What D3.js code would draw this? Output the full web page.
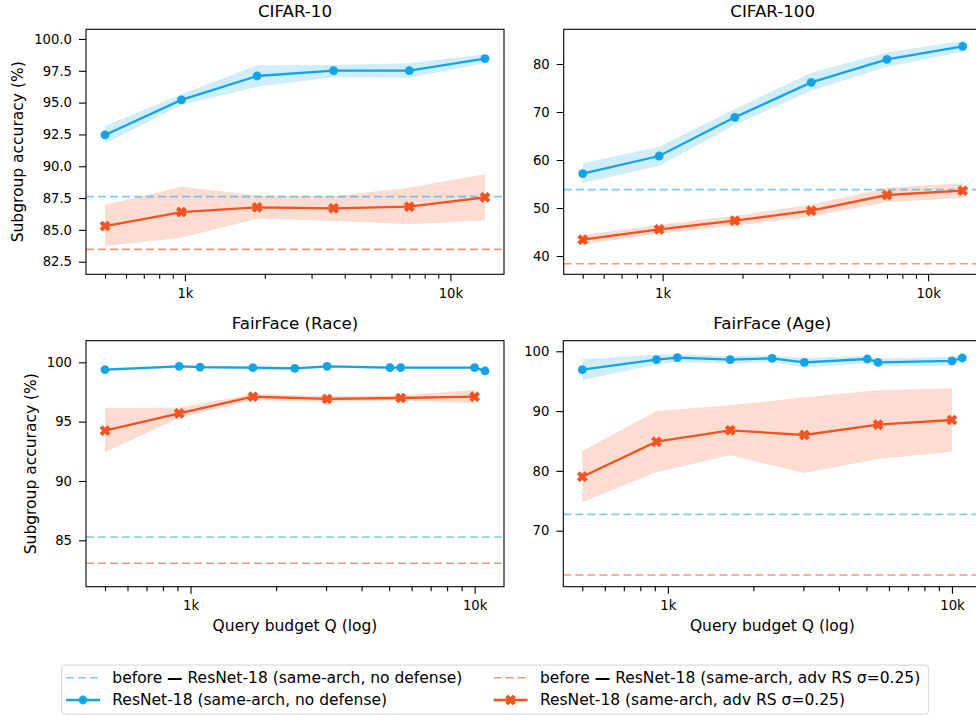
<!DOCTYPE html>
<html>
<head>
<meta charset="utf-8">
<script src="https://cdn.jsdelivr.net/npm/d3@7"></script>
<style>
  body { margin: 0; background: #fff; }
  svg { display: block; font-family: "DejaVu Sans", sans-serif; }
</style>
</head>
<body>
<svg id="chart" width="976" height="715"></svg>
<script>
// ---- Query budgets ----
const cifarQ = [500, 970, 1870, 3630, 7000, 13500];
const faceQPlain = [500, 912, 1080, 1658, 2328, 3024, 5035, 5495, 10000, 10875];
const faceQRobust = [500, 912, 1658, 3024, 5495, 10000];

// ---- CIFAR-10 ----
const c10Plain   = [92.46, 95.21, 97.09, 97.51, 97.51, 98.45];
const c10PlainLo = [91.80, 94.81, 96.25, 96.99, 96.96, 98.09];
const c10PlainHi = [93.16, 95.65, 97.93, 97.96, 98.09, 98.80];
const c10Robust   = [85.30, 86.40, 86.77, 86.69, 86.82, 87.56];
const c10RobustLo = [83.73, 84.38, 85.88, 85.72, 85.44, 85.75];
const c10RobustHi = [86.95, 88.39, 87.71, 87.66, 88.31, 89.37];
const c10Before = [87.61, 83.47];

// ---- CIFAR-100 ----
const c100Plain   = [57.15, 60.83, 68.89, 76.18, 80.97, 83.68];
const c100PlainLo = [55.14, 58.82, 67.29, 74.44, 79.44, 82.57];
const c100PlainHi = [59.31, 62.78, 70.63, 78.19, 82.43, 84.79];
const c100Robust   = [43.40, 45.56, 47.36, 49.44, 52.71, 53.61];
const c100RobustLo = [42.44, 44.65, 46.32, 48.19, 51.25, 52.08];
const c100RobustHi = [44.38, 46.53, 48.40, 50.69, 54.23, 55.14];
const c100Before = [53.82, 38.40];

// ---- FairFace (Race) ----
const racePlain   = [99.38, 99.66, 99.60, 99.55, 99.49, 99.66, 99.55, 99.55, 99.55, 99.27];
const racePlainLo = [99.25, 99.55, 99.50, 99.35, 99.30, 99.55, 99.45, 99.45, 99.45, 99.20];
const racePlainHi = [99.50, 99.75, 99.70, 99.65, 99.60, 99.75, 99.65, 99.65, 99.65, 99.35];
const raceRobust   = [94.24, 95.70, 97.10, 96.91, 96.99, 97.10];
const raceRobustLo = [92.42, 95.30, 96.82, 96.65, 96.80, 96.54];
const raceRobustHi = [96.12, 96.20, 97.33, 97.15, 97.20, 97.67];
const raceBefore = [85.28, 83.07];

// ---- FairFace (Age) ----
const agePlain   = [96.93, 98.60, 98.93, 98.60, 98.82, 98.15, 98.71, 98.15, 98.38, 98.88];
const agePlainLo = [95.20, 97.80, 98.20, 97.90, 98.20, 97.30, 98.00, 97.50, 97.60, 98.40];
const agePlainHi = [98.70, 99.40, 99.50, 99.20, 99.30, 98.90, 99.20, 98.80, 99.10, 99.30];
const ageRobust   = [79.03, 84.88, 86.78, 86.00, 87.73, 88.51];
const ageRobustLo = [74.79, 79.76, 82.60, 79.64, 81.98, 83.21];
const ageRobustHi = [83.32, 90.01, 90.96, 92.30, 93.47, 93.81];
const ageBefore = [72.73, 62.58];

// ---- Axis ticks ----
const xMajorTicks = [1000, 10000];
const xMajorLabels = ["1k", "10k"];
const xMinorTicks = [200, 300, 400, 500, 600, 700, 800, 900, 2000, 3000, 4000, 5000, 6000, 7000, 8000, 9000, 20000];
const c10YTicks = [82.5, 85.0, 87.5, 90.0, 92.5, 95.0, 97.5, 100.0];
const c100YTicks = [40, 50, 60, 70, 80];
const raceYTicks = [85, 90, 95, 100];
const ageYTicks = [70, 80, 90, 100];

// ---- Text ----
const titles = ["CIFAR-10", "CIFAR-100", "FairFace (Race)", "FairFace (Age)"];
const yLabel = "Subgroup accuracy (%)";
const xLabel = "Query budget Q (log)";
// legend labels: [prefix, dash, rest]
const legendLabels = [
  ["before ", "\u2014", " ResNet-18 (same-arch, no defense)"],
  ["", "", "ResNet-18 (same-arch, no defense)"],
  ["before ", "\u2014", " ResNet-18 (same-arch, adv RS \u03c3=0.25)"],
  ["", "", "ResNet-18 (same-arch, adv RS \u03c3=0.25)"]
];

const BLUE = "#13a4e7";
const RED = "#f4521f";

const zip = (q, v, lo, hi) => q.map((d, i) => ({ q: d, v: v[i], lo: lo[i], hi: hi[i] }));

const panels = [
  { title: titles[0], left: 86, top: 29.3, w: 418, h: 245, yDomain: [81.51, 100.76], yTicks: c10YTicks, yFmt: d3.format(".1f"),
    plainQ: cifarQ, robustQ: cifarQ,
    plain: zip(cifarQ, c10Plain, c10PlainLo, c10PlainHi), robust: zip(cifarQ, c10Robust, c10RobustLo, c10RobustHi),
    before: c10Before, yLabelX: 18.3, showX: false },
  { title: titles[1], left: 563.7, top: 29.3, w: 418, h: 245, yDomain: [36.19, 87.23], yTicks: c100YTicks, yFmt: d3.format("d"),
    plainQ: cifarQ, robustQ: cifarQ,
    plain: zip(cifarQ, c100Plain, c100PlainLo, c100PlainHi), robust: zip(cifarQ, c100Robust, c100RobustLo, c100RobustHi),
    before: c100Before, yLabelX: null, showX: false },
  { title: titles[2], left: 86, top: 340.7, w: 418, h: 246, yDomain: [81.09, 101.82], yTicks: raceYTicks, yFmt: d3.format("d"),
    plainQ: faceQPlain, robustQ: faceQRobust,
    plain: zip(faceQPlain, racePlain, racePlainLo, racePlainHi), robust: zip(faceQRobust, raceRobust, raceRobustLo, raceRobustHi),
    before: raceBefore, yLabelX: 30.8, showX: true },
  { title: titles[3], left: 563.3, top: 340.7, w: 418, h: 246, yDomain: [60.63, 101.77], yTicks: ageYTicks, yFmt: d3.format("d"),
    plainQ: faceQPlain, robustQ: faceQRobust,
    plain: zip(faceQPlain, agePlain, agePlainLo, agePlainHi), robust: zip(faceQRobust, ageRobust, ageRobustLo, ageRobustHi),
    before: ageBefore, yLabelX: null, showX: true }
];

const svg = d3.select("#chart");

// filled "X" marker outline
function xMarkerPath(s) {
  const pts = [[-.25,-.5],[0,-.25],[.25,-.5],[.5,-.25],[.25,0],[.5,.25],[.25,.5],[0,.25],[-.25,.5],[-.5,.25],[-.25,0],[-.5,-.25]];
  return "M" + pts.map(p => (p[0] * s).toFixed(2) + "," + (p[1] * s).toFixed(2)).join("L") + "Z";
}

panels.forEach((p, idx) => {
  const g = svg.append("g").attr("transform", `translate(${p.left},${p.top})`);

  const allQ = p.plainQ.concat(p.robustQ);
  const [qMin, qMax] = d3.extent(allQ);
  const l0 = Math.log10(qMin), l1 = Math.log10(qMax), pad = (l1 - l0) * 0.05;
  const x = d3.scaleLog().domain([Math.pow(10, l0 - pad), Math.pow(10, l1 + pad)]).range([0, p.w]);
  const y = d3.scaleLinear().domain(p.yDomain).range([p.h, 0]);

  const clipId = "clip" + idx;
  g.append("clipPath").attr("id", clipId).append("rect").attr("width", p.w).attr("height", p.h);
  const plot = g.append("g").attr("clip-path", `url(#${clipId})`);

  const area = d3.area().x(d => x(d.q)).y0(d => y(d.lo)).y1(d => y(d.hi));
  const line = d3.line().x(d => x(d.q)).y(d => y(d.v));

  // shaded spread
  plot.append("path").datum(p.plain).attr("d", area).attr("fill", BLUE).attr("fill-opacity", 0.2);
  plot.append("path").datum(p.robust).attr("d", area).attr("fill", RED).attr("fill-opacity", 0.2);

  // baselines before extraction
  [[p.before[0], BLUE, 0.55], [p.before[1], RED, 0.6]].forEach(([v, c, o]) => {
    plot.append("line").attr("x1", 0).attr("x2", p.w).attr("y1", y(v)).attr("y2", y(v))
      .attr("stroke", c).attr("stroke-opacity", o).attr("stroke-width", 1.6)
      .attr("stroke-dasharray", "8,4");
  });

  // series lines
  plot.append("path").datum(p.plain).attr("d", line).attr("fill", "none").attr("stroke", BLUE).attr("stroke-width", 2.3);
  plot.append("path").datum(p.robust).attr("d", line).attr("fill", "none").attr("stroke", RED).attr("stroke-width", 2.3);

  // markers
  g.append("g").selectAll("circle").data(p.plain).join("circle")
    .attr("cx", d => x(d.q)).attr("cy", d => y(d.v)).attr("r", 4.4).attr("fill", BLUE);
  g.append("g").selectAll("path").data(p.robust).join("path")
    .attr("transform", d => `translate(${x(d.q)},${y(d.v)})`)
    .attr("d", xMarkerPath(10)).attr("fill", RED).attr("stroke", RED).attr("stroke-width", 0.8).attr("stroke-linejoin", "miter");

  // axes
  const [d0, d1] = x.domain();
  const majors = xMajorTicks.filter(t => t >= d0 && t <= d1);
  const minors = xMinorTicks.filter(t => t >= d0 && t <= d1);
  const xAxis = g.append("g").attr("transform", `translate(0,${p.h})`)
    .call(d3.axisBottom(x).tickValues(majors).tickSize(7).tickPadding(7)
      .tickFormat(t => xMajorLabels[xMajorTicks.indexOf(t)]));
  const xMinor = g.append("g").attr("transform", `translate(0,${p.h})`)
    .call(d3.axisBottom(x).tickValues(minors).tickSize(4.5).tickFormat(""));
  const yAxis = g.append("g")
    .call(d3.axisLeft(y).tickValues(p.yTicks).tickSize(7).tickPadding(7).tickFormat(p.yFmt));

  [xAxis, xMinor, yAxis].forEach(a => {
    a.select(".domain").remove();
    a.selectAll(".tick line").attr("stroke", "#000").attr("stroke-width", 1.1);
    a.selectAll(".tick text").attr("fill", "#000").style("font-size", "13.2px").style("font-family", "DejaVu Sans");
  });

  // frame
  g.append("rect").attr("width", p.w).attr("height", p.h).attr("fill", "none")
    .attr("stroke", "#000").attr("stroke-width", 1.1);

  // title
  g.append("text").attr("x", p.w / 2).attr("y", -12).attr("text-anchor", "middle")
    .style("font-size", "16.7px").attr("fill", "#000").text(p.title);

  if (p.yLabelX !== null) {
    svg.append("text")
      .attr("transform", `translate(${p.yLabelX},${p.top + p.h / 2}) rotate(-90)`)
      .attr("text-anchor", "middle").attr("dominant-baseline", "central")
      .style("font-size", "15.5px").attr("fill", "#000").text(yLabel);
  }
  if (p.showX) {
    g.append("text").attr("x", p.w / 2).attr("y", p.h + 44.8).attr("text-anchor", "middle")
      .style("font-size", "15.5px").attr("fill", "#000").text(xLabel);
  }
});

// ---- legend ----
const legend = svg.append("g");
legend.append("rect").attr("x", 61.7).attr("y", 665).attr("width", 866.7).attr("height", 49.3)
  .attr("rx", 3).attr("fill", "#fff").attr("stroke", "#d4d4d4").attr("stroke-width", 1);

const legendItems = [
  { x: 66, y: 677.7, color: BLUE, kind: "dash", label: legendLabels[0], o: 0.55 },
  { x: 66, y: 700, color: BLUE, kind: "circle", label: legendLabels[1] },
  { x: 493.6, y: 677.7, color: RED, kind: "dash", label: legendLabels[2], o: 0.6 },
  { x: 493.6, y: 700, color: RED, kind: "x", label: legendLabels[3] }
];
legendItems.forEach(it => {
  const hg = legend.append("g").attr("transform", `translate(${it.x},${it.y})`);
  if (it.kind === "dash") {
    hg.append("line").attr("x1", 0).attr("x2", 34).attr("stroke", it.color).attr("stroke-opacity", it.o)
      .attr("stroke-width", 1.6).attr("stroke-dasharray", "8,4");
  } else {
    hg.append("line").attr("x1", 0).attr("x2", 34).attr("stroke", it.color).attr("stroke-width", 2.3);
    if (it.kind === "circle") {
      hg.append("circle").attr("cx", 17).attr("r", 4.4).attr("fill", it.color);
    } else {
      hg.append("path").attr("transform", "translate(17,0)").attr("d", xMarkerPath(10))
        .attr("fill", it.color).attr("stroke", it.color).attr("stroke-width", 0.8);
    }
  }
  const t = legend.append("text").attr("x", it.x + 46.3).attr("y", it.y).attr("dominant-baseline", "central")
    .style("font-size", "15.5px").attr("fill", "#000");
  t.append("tspan").text(it.label[0]);
  if (it.label[1]) t.append("tspan").style("font-weight", "bold").text(it.label[1]);
  t.append("tspan").text(it.label[2]);
});
</script>
</body>
</html>
